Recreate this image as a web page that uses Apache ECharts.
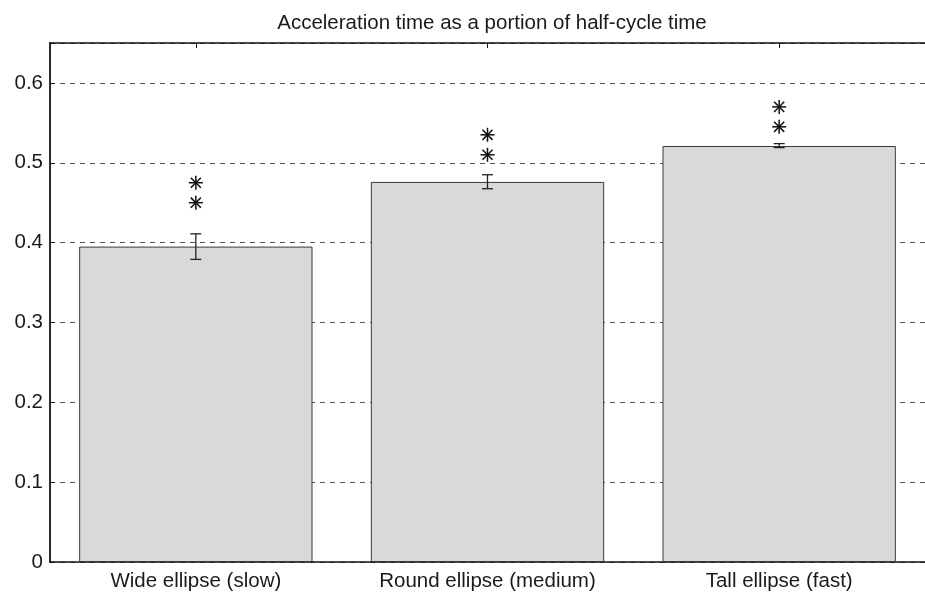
<!DOCTYPE html>
<html>
<head>
<meta charset="utf-8">
<script src="https://cdn.jsdelivr.net/npm/echarts@6/dist/echarts.min.js"></script>
<style>
  html, body { margin: 0; padding: 0; background: #fff; }
  #chart { width: 925px; height: 594px; }
</style>
</head>
<body>
<div id="chart"></div>
<script>
// Mean acceleration time (fraction of half-cycle) per ellipse condition
const categories = ['Wide ellipse (slow)', 'Round ellipse (medium)', 'Tall ellipse (fast)'];
const means = [0.395, 0.476, 0.521];
const errLow = [0.379, 0.4675, 0.519];
const errHigh = [0.411, 0.485, 0.524];
// Significance asterisks (two per condition)
const starLow = [0.450, 0.510, 0.545];
const starHigh = [0.475, 0.535, 0.570];
const yTicks = [0, 0.1, 0.2, 0.3, 0.4, 0.5, 0.6];

const FONT = 'Liberation Sans, Arial, Helvetica, sans-serif';

const chart = echarts.init(document.getElementById('chart'), null, { renderer: 'canvas' });

function errorBarItem(params, api) {
  const i = api.value(0);
  const lo = api.coord([i, api.value(1)]);
  const hi = api.coord([i, api.value(2)]);
  const cap = 5.5;
  const style = { stroke: '#222', lineWidth: 1.3 };
  return {
    type: 'group',
    children: [
      { type: 'line', shape: { x1: hi[0], y1: hi[1], x2: lo[0], y2: lo[1] }, style },
      { type: 'line', shape: { x1: hi[0] - cap, y1: hi[1], x2: hi[0] + cap, y2: hi[1] }, style },
      { type: 'line', shape: { x1: lo[0] - cap, y1: lo[1], x2: lo[0] + cap, y2: lo[1] }, style }
    ]
  };
}

function starItem(params, api) {
  const p = api.coord([api.value(0), api.value(1)]);
  const r = 7;
  const d = r * 0.72;
  const style = { stroke: '#111', lineWidth: 1.5 };
  return {
    type: 'group',
    children: [
      { type: 'line', shape: { x1: p[0] - r, y1: p[1], x2: p[0] + r, y2: p[1] }, style },
      { type: 'line', shape: { x1: p[0], y1: p[1] - r, x2: p[0], y2: p[1] + r }, style },
      { type: 'line', shape: { x1: p[0] - d, y1: p[1] - d, x2: p[0] + d, y2: p[1] + d }, style },
      { type: 'line', shape: { x1: p[0] - d, y1: p[1] + d, x2: p[0] + d, y2: p[1] - d }, style }
    ]
  };
}

const errData = categories.map((c, i) => [i, errLow[i], errHigh[i]]);
const starData = [];
categories.forEach((c, i) => {
  starData.push([i, starLow[i]]);
  starData.push([i, starHigh[i]]);
});

chart.setOption({
  animation: false,
  backgroundColor: '#ffffff',
  title: {
    text: 'Acceleration time as a portion of half-cycle time',
    left: 487,
    textAlign: 'center',
    top: 8,
    textStyle: { fontFamily: FONT, fontSize: 20.5, fontWeight: 'normal', color: '#1a1a1a' }
  },
  grid: { left: 50, top: 43, width: 876, height: 519, containLabel: false },
  xAxis: [
    {
      type: 'category',
      data: categories,
      position: 'bottom',
      boundaryGap: true,
      axisLine: { show: true, lineStyle: { color: '#111', width: 1.5 } },
      axisTick: { show: true, inside: true, alignWithLabel: true, length: 5, lineStyle: { color: '#111' } },
      axisLabel: { fontFamily: FONT, fontSize: 20.5, color: '#1a1a1a', margin: 9 },
      splitLine: { show: false }
    },
    {
      type: 'category',
      data: categories,
      position: 'top',
      boundaryGap: true,
      axisLine: { show: true, lineStyle: { color: '#111', width: 1.5 } },
      axisTick: { show: true, inside: true, alignWithLabel: true, length: 5, lineStyle: { color: '#111' } },
      axisLabel: { show: false },
      splitLine: { show: false }
    }
  ],
  yAxis: {
    type: 'value',
    min: 0,
    max: 0.65,
    interval: 0.1,
    axisLine: { show: true, lineStyle: { color: '#111', width: 1.8 } },
    axisTick: { show: true, inside: true, length: 5, lineStyle: { color: '#111' } },
    axisLabel: {
      fontFamily: FONT,
      fontSize: 20.5,
      color: '#1a1a1a',
      margin: 7,
      formatter: v => {
        const t = yTicks.find(k => Math.abs(k - v) < 1e-6);
        if (t === undefined) return '';
        return t === 0 ? '0' : t.toFixed(1);
      }
    },
    splitLine: {
      show: true,
      lineStyle: { color: '#555', type: [5, 5], width: 1 }
    }
  },
  series: [
    {
      type: 'bar',
      data: means,
      barWidth: '80%',
      itemStyle: { color: '#d9d9d9', borderColor: '#3a3a3a', borderWidth: 1 },
      z: 3
    },
    {
      type: 'custom',
      data: errData,
      renderItem: errorBarItem,
      encode: { x: 0, y: [1, 2] },
      z: 5
    },
    {
      type: 'custom',
      data: starData,
      renderItem: starItem,
      encode: { x: 0, y: 1 },
      z: 5
    }
  ]
});
</script>
</body>
</html>
